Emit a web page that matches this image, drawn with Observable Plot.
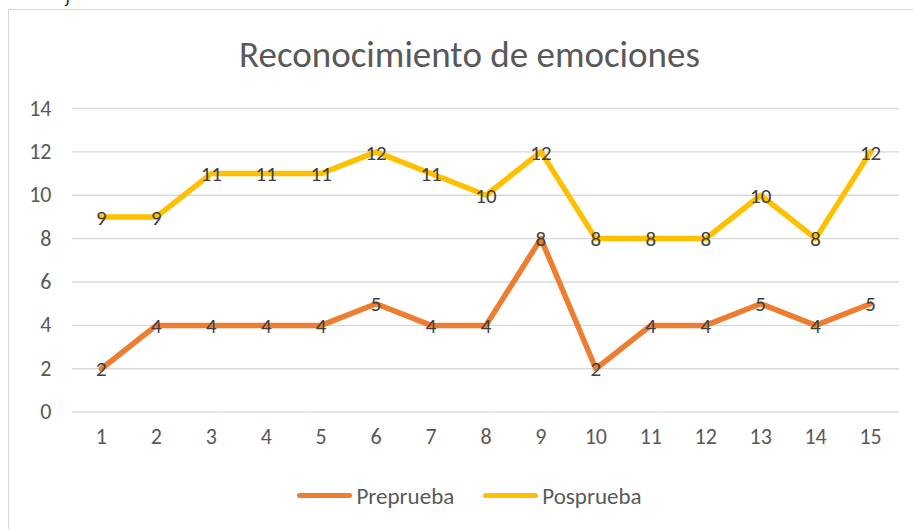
<!DOCTYPE html>
<html>
<head>
<meta charset="utf-8">
<script src="https://cdn.jsdelivr.net/npm/d3@7"></script>
<script src="https://cdn.jsdelivr.net/npm/@observablehq/plot@0.6"></script>
<style>
  html, body { margin: 0; padding: 0; background: #fff; overflow: hidden; width: 913px; height: 529px; }
  body { font-family: Carlito, Calibri, Lato, "Open Sans", sans-serif; position: relative; }
  #frag { position: absolute; left: 66px; top: -14px; font-style: italic; font-size: 18px; color: #222; }
  #wrap { position: absolute; left: 8px; top: 9px; width: 922px; height: 540px; border-top: 1.5px solid #d9d9d9; border-left: 1.5px solid #d9d9d9; box-sizing: border-box; }
  #title { height: 80px; box-sizing: border-box; padding-top: 26px; text-align: center; font-size: 37px; line-height: 37px; color: #595959; }
  #legend { display: flex; justify-content: center; align-items: center; gap: 29px; font-size: 23px; color: #595959; margin-top: 12px; }
  .item { display: flex; align-items: center; gap: 4px; }
  .sw { width: 55px; height: 5px; border-radius: 3px; }
  svg text { font-family: Carlito, Calibri, Lato, "Open Sans", sans-serif; }
</style>
</head>
<body>
<div id="frag">j</div>
<div id="wrap">
  <div id="title">Reconocimiento de emociones</div>
  <div id="chart"></div>
  <div id="legend"></div>
</div>
<script>
const sessions = [1, 2, 3, 4, 5, 6, 7, 8, 9, 10, 11, 12, 13, 14, 15];
const preprueba = [2, 4, 4, 4, 4, 5, 4, 4, 8, 2, 4, 4, 5, 4, 5];
const posprueba = [9, 9, 11, 11, 11, 12, 11, 10, 12, 8, 8, 8, 10, 8, 12];
const yTicks = [0, 2, 4, 6, 8, 10, 12, 14];
const seriesNames = ["Preprueba", "Posprueba"];
const seriesColors = ["#ED7D31", "#FFC000"];

const data = [];
sessions.forEach((s, i) => {
  data.push({session: s, value: preprueba[i], serie: seriesNames[0]});
  data.push({session: s, value: posprueba[i], serie: seriesNames[1]});
});

const plot = Plot.plot({
  width: 922,
  height: 380,
  marginLeft: 63,
  marginRight: 31,
  marginTop: 18,
  marginBottom: 58,
  style: {color: "#595959", background: "transparent", overflow: "visible"},
  x: {type: "point", domain: sessions, padding: 0.5, axis: null},
  y: {domain: [0, 14], axis: null},
  color: {domain: seriesNames, range: seriesColors},
  marks: [
    Plot.ruleY(yTicks, {stroke: "#d9d9d9", strokeWidth: 1.3}),
    Plot.text(yTicks, {y: d => d, frameAnchor: "left", textAnchor: "end", dx: -21, fontSize: 22, fill: "#595959"}),
    Plot.text(sessions, {x: d => d, frameAnchor: "bottom", dy: 32, fontSize: 22, fill: "#595959"}),
    Plot.line(data, {x: "session", y: "value", z: "serie", stroke: "serie", strokeWidth: 5.5, strokeLinejoin: "round", strokeLinecap: "round"}),
    Plot.text(data, {x: "session", y: "value", text: "value", fill: "#404040", fontSize: 21, dy: 1})
  ]
});
document.getElementById("chart").appendChild(plot);

const legend = document.getElementById("legend");
seriesNames.forEach((n, i) => {
  const it = document.createElement("div");
  it.className = "item";
  const sw = document.createElement("div");
  sw.className = "sw";
  sw.style.background = seriesColors[i];
  const lb = document.createElement("span");
  lb.textContent = n;
  it.appendChild(sw); it.appendChild(lb);
  legend.appendChild(it);
});
</script>
</body>
</html>
